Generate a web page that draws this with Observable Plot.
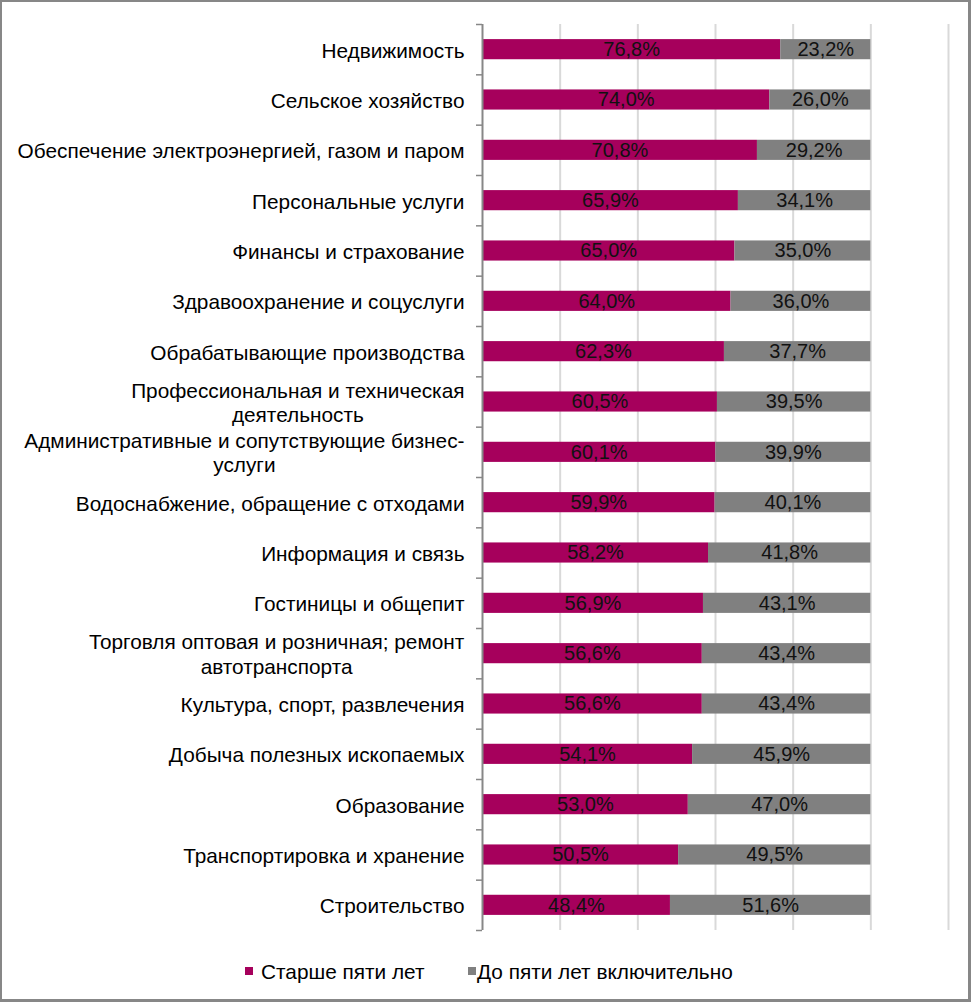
<!DOCTYPE html>
<html>
<head>
<meta charset="utf-8">
<script src="https://cdn.jsdelivr.net/npm/d3@7"></script>
<script src="https://cdn.jsdelivr.net/npm/@observablehq/plot@0.6"></script>
<style>
  html, body { margin: 0; padding: 0; background: #fff; }
  #wrap { position: relative; width: 971px; height: 1002px; overflow: hidden; font-family: "Liberation Sans", Arial, sans-serif; }
  #frame { position: absolute; left: 0; top: 0; width: 971px; height: 1002px; box-sizing: border-box;
           border-style: solid; border-color: #878787; border-width: 2px 3px 3px 2px; pointer-events: none; }
  #chart { position: absolute; left: 0; top: 0; }
  .leg { position: absolute; top: 960px; font-size: 20.8px; color: #000; line-height: 24px; white-space: nowrap; }
  .sw { position: absolute; top: 967px; width: 8px; height: 8px; }
</style>
</head>
<body>
<div id="wrap">
  <div id="chart"></div>
  <div id="legend"></div>
  <div id="frame"></div>
</div>
<script>
const categories = [
  "Недвижимость",
  "Сельское хозяйство",
  "Обеспечение электроэнергией, газом и паром",
  "Персональные услуги",
  "Финансы и страхование",
  "Здравоохранение и соцуслуги",
  "Обрабатывающие производства",
  "Профессиональная и техническая\nдеятельность",
  "Административные и сопутствующие бизнес-\nуслуги",
  "Водоснабжение, обращение с отходами",
  "Информация и связь",
  "Гостиницы и общепит",
  "Торговля оптовая и розничная; ремонт\nавтотранспорта",
  "Культура, спорт, развлечения",
  "Добыча полезных ископаемых",
  "Образование",
  "Транспортировка и хранение",
  "Строительство"
];
const olderShare = [76.8, 74.0, 70.8, 65.9, 65.0, 64.0, 62.3, 60.5, 60.1, 59.9, 58.2, 56.9, 56.6, 56.6, 54.1, 53.0, 50.5, 48.4];
const youngerShare = [23.2, 26.0, 29.2, 34.1, 35.0, 36.0, 37.7, 39.5, 39.9, 40.1, 41.8, 43.1, 43.4, 43.4, 45.9, 47.0, 49.5, 51.6];
const seriesNames = ["Старше пяти лет", "До пяти лет включительно"];
const seriesColors = ["#A6005C", "#808080"];
const gridTicks = [20, 40, 60, 80, 100, 120];

const rows = [];
categories.forEach((c, i) => {
  rows.push({category: c, series: seriesNames[0], value: olderShare[i]});
  rows.push({category: c, series: seriesNames[1], value: youngerShare[i]});
});
const fmt = v => v.toFixed(1).replace(".", ",") + "%";

const W = 971, H = 945, mt = 24, mb = 15, ml = 482, mr = 23;
const step = (H - mt - mb) / categories.length;

const chart = Plot.plot({
  width: W, height: H,
  marginLeft: ml, marginRight: mr, marginTop: mt, marginBottom: mb,
  style: {fontFamily: "'Liberation Sans', Arial, sans-serif", background: "transparent", overflow: "visible"},
  x: {domain: [0, 120], axis: null},
  y: {domain: categories, paddingInner: 0.6, paddingOuter: 0.3, round: false, axis: null},
  color: {domain: seriesNames, range: seriesColors},
  marks: [
    Plot.ruleX(gridTicks, {stroke: "#d9d9d9", strokeWidth: 2}),
    Plot.barX(rows, Plot.stackX({x: "value", y: "category", fill: "series"})),
    Plot.text(rows, Plot.stackX({x: "value", y: "category", text: d => fmt(d.value), fill: "#111", fontSize: 20})),
    Plot.ruleX([0], {stroke: "#878787", strokeWidth: 2}),
    Plot.axisY({tickSize: 6, tickFormat: () => "", label: null, dy: -step / 2, stroke: "#878787", strokeWidth: 1.5}),
    Plot.axisY([categories[categories.length - 1]], {tickSize: 6, tickFormat: () => "", label: null, dy: step / 2, stroke: "#878787", strokeWidth: 1.5}),
    Plot.text(categories, {x: 0, y: d => d, text: d => d, textAnchor: "end", dx: -18, fontSize: 20.8, lineHeight: 1.18, fill: "#000"})
  ]
});
document.getElementById("chart").appendChild(chart);

// center lines of multi-line labels within their right-aligned block
chart.querySelectorAll("text").forEach(t => {
  const spans = t.querySelectorAll("tspan");
  if (spans.length > 1) {
    const w = t.getBBox().width;
    t.setAttribute("text-anchor", "middle");
    spans.forEach(s => s.setAttribute("x", (+s.getAttribute("x") || 0) - w / 2));
  }
});

// legend
const legend = document.getElementById("legend");
const legPos = [{sw: 245, tx: 261}, {sw: 468, tx: 477}];
seriesNames.forEach((name, i) => {
  const sw = document.createElement("div");
  sw.className = "sw";
  sw.style.left = legPos[i].sw + "px";
  sw.style.background = seriesColors[i];
  legend.appendChild(sw);
  const tx = document.createElement("div");
  tx.className = "leg";
  tx.style.left = legPos[i].tx + "px";
  tx.textContent = name;
  legend.appendChild(tx);
});
</script>
</body>
</html>
